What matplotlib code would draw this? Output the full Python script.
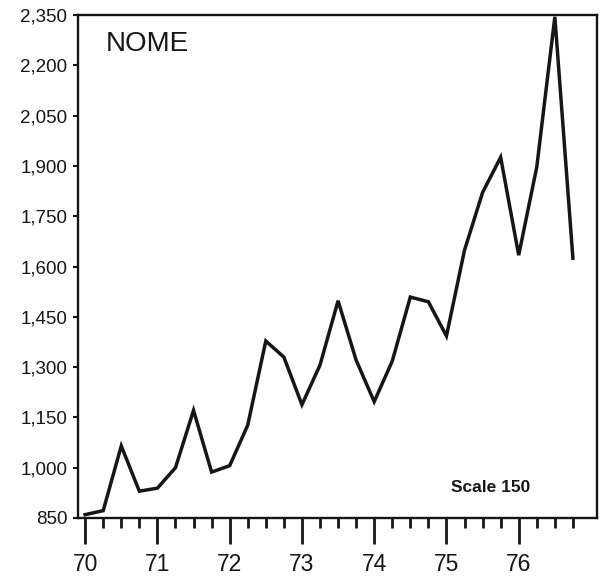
import matplotlib
matplotlib.use('Agg')
import matplotlib.pyplot as plt

# Quarterly values
quarters = [70.0, 70.25, 70.5, 70.75, 71.0, 71.25, 71.5, 71.75,
            72.0, 72.25, 72.5, 72.75, 73.0, 73.25, 73.5, 73.75,
            74.0, 74.25, 74.5, 74.75, 75.0, 75.25, 75.5, 75.75,
            76.0, 76.25, 76.5, 76.75]
values = [860, 872, 1065, 930, 939, 1000, 1171, 987,
          1006, 1127, 1378, 1330, 1188, 1306, 1498, 1321,
          1197, 1318, 1509, 1495, 1393, 1649, 1821, 1926,
          1634, 1897, 2345, 1625]

y_ticks = [850, 1000, 1150, 1300, 1450, 1600, 1750, 1900, 2050, 2200, 2350]
y_labels = ['850', '1,000', '1,150', '1,300', '1,450', '1,600',
            '1,750', '1,900', '2,050', '2,200', '2,350']
x_ticks = [70, 71, 72, 73, 74, 75, 76]
x_labels = ['70', '71', '72', '73', '74', '75', '76']

plt.rcParams['font.family'] = ['Liberation Sans', 'DejaVu Sans']
ink = '#161616'

fig = plt.figure(figsize=(6.04, 5.83), dpi=100)
ax = fig.add_axes([0.129, 0.1115, 0.859, 0.8625])

ax.plot(quarters, values, color=ink, lw=2.5, solid_joinstyle='miter')

ax.set_xlim(69.9, 77.08)
ax.set_ylim(850, 2350)

ax.set_xticks(x_ticks)
ax.set_xticklabels(x_labels, fontsize=16.5, color=ink)
# small ticks at every quarter (the ones on whole years get dropped)
ax.set_xticks(quarters, minor=True)
ax.set_yticks(y_ticks)
ax.set_yticklabels(y_labels, fontsize=13.5, color=ink)

ax.tick_params(axis='x', which='major', direction='out', length=19, width=2,
               pad=6, colors=ink)
ax.tick_params(axis='x', which='minor', direction='out', length=7, width=2,
               colors=ink)
ax.tick_params(axis='y', which='major', direction='out', length=3.5, width=1.5,
               pad=4, colors=ink)

for s in ax.spines.values():
    s.set_linewidth(1.7)
    s.set_color(ink)

ax.text(0.054, 0.928, 'NOME', transform=ax.transAxes, fontsize=20, color=ink)
ax.text(0.72, 0.052, 'Scale 150', transform=ax.transAxes, fontsize=12.5,
        fontweight='bold', color=ink)

fig.savefig('out.png', dpi=100)
